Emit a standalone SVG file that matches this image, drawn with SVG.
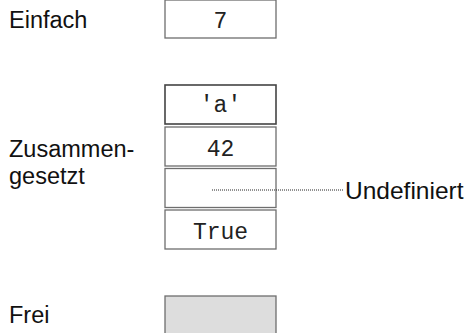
<svg xmlns="http://www.w3.org/2000/svg" width="465" height="333" viewBox="0 0 465 333">
<style>
.lbl{font-family:"Liberation Sans",Arial,sans-serif;font-size:23.5px;fill:#111}
.val{font-family:"Liberation Mono","Courier New",monospace;font-size:23px;fill:#222;text-anchor:middle}
.box{fill:#fff;stroke:#6e6e6e;stroke-width:1.3}
.free{fill:#dddddd;stroke:#6e6e6e;stroke-width:1.3}
.conn{stroke:#222;stroke-width:1;stroke-dasharray:1,1;fill:none}
</style>
<rect width="465" height="333" fill="#fff"/>
<g id="einfach">
<text class="lbl" x="9" y="28">Einfach</text>
<rect class="box" x="165" y="0" width="111" height="38"/>
<text class="val" x="220.5" y="28">7</text>
</g>
<g id="zusammengesetzt">
<text class="lbl" x="9" y="157">Zusammen-</text>
<text class="lbl" x="9" y="184">gesetzt</text>
</g>
<g id="cell-a">
<rect class="box" x="165" y="85" width="111" height="39" style="stroke:#444;stroke-width:1.6"/>
<text class="val" x="220.5" y="112">'a'</text>
</g>
<g id="cell-42">
<rect class="box" x="165" y="127" width="111" height="39"/>
<text class="val" x="220.5" y="155.5">42</text>
</g>
<g id="cell-undef">
<rect class="box" x="165" y="168.5" width="111" height="39"/>
</g>
<g id="cell-true">
<rect class="box" x="165" y="210" width="111" height="39"/>
<text class="val" x="220.5" y="239">True</text>
</g>
<g id="undefiniert">
<text class="lbl" x="345" y="199" style="font-size:24.5px">Undefiniert</text>
</g>
<g id="frei">
<text class="lbl" x="9" y="323">Frei</text>
<rect class="free" x="165" y="296" width="111" height="40"/>
</g>
<g id="connectors">
<line class="conn" x1="212" y1="190" x2="343" y2="190"/>
</g>
</svg>
